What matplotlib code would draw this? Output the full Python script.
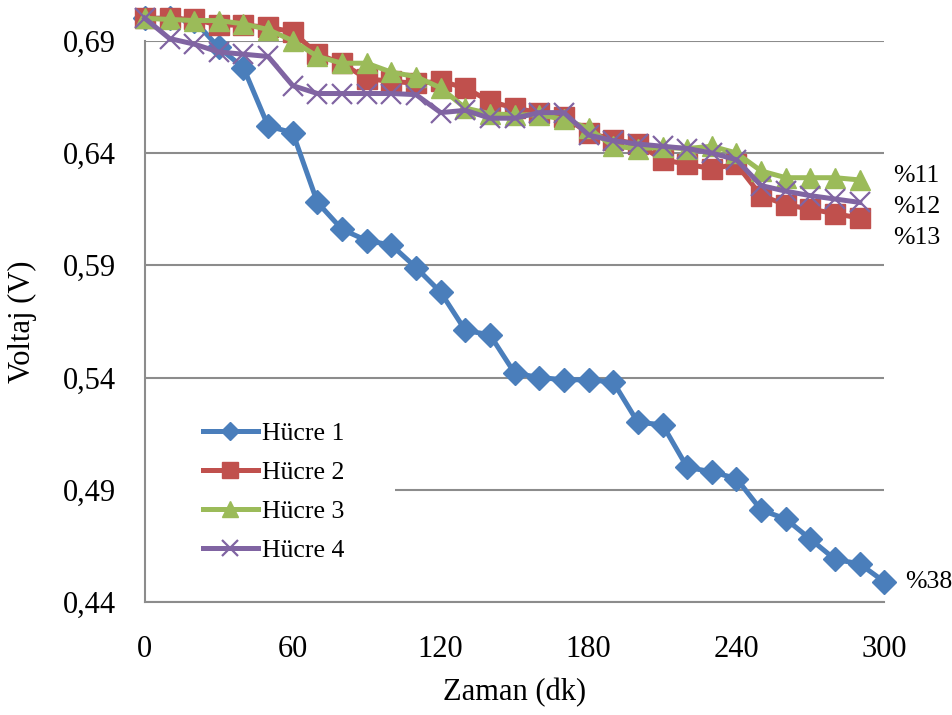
import matplotlib
matplotlib.use('Agg')
import matplotlib.pyplot as plt
from matplotlib.patches import Rectangle

# ölçüm zamanları (dk)
zaman1 = [0, 10, 20, 30, 40, 50, 60, 70, 80, 90, 100, 110, 120, 130, 140, 150,
          160, 170, 180, 190, 200, 210, 220, 230, 240, 250, 260, 270, 280, 290, 300]
zaman = zaman1[:-1]

# hücre voltajları (V)
hucre1 = [0.700, 0.700, 0.699, 0.687, 0.678, 0.652, 0.649, 0.618, 0.606, 0.601,
          0.599, 0.589, 0.578, 0.561, 0.559, 0.542, 0.540, 0.539, 0.539, 0.538,
          0.520, 0.519, 0.500, 0.498, 0.495, 0.481, 0.477, 0.468, 0.459, 0.457, 0.449]
hucre2 = [0.700, 0.700, 0.6995, 0.697, 0.697, 0.696, 0.694, 0.684, 0.680, 0.673,
          0.672, 0.671, 0.672, 0.669, 0.663, 0.660, 0.658, 0.656, 0.649, 0.646,
          0.644, 0.637, 0.635, 0.633, 0.635, 0.621, 0.617, 0.615, 0.613, 0.611]
hucre3 = [0.700, 0.6995, 0.699, 0.699, 0.6975, 0.695, 0.690, 0.683, 0.680, 0.680,
          0.676, 0.674, 0.669, 0.660, 0.6575, 0.657, 0.657, 0.655, 0.651, 0.643,
          0.642, 0.6425, 0.642, 0.643, 0.640, 0.632, 0.629, 0.629, 0.629, 0.628]
hucre4 = [0.700, 0.691, 0.6885, 0.685, 0.684, 0.683, 0.670, 0.6665, 0.6665, 0.6665,
          0.6665, 0.666, 0.658, 0.659, 0.6555, 0.6555, 0.658, 0.658, 0.648, 0.6455,
          0.644, 0.643, 0.642, 0.640, 0.637, 0.6255, 0.623, 0.621, 0.6195, 0.618]

# kayıp yüzdeleri
kayip = ['%38', '%13', '%11', '%12']

y_ticks = [0.44, 0.49, 0.54, 0.59, 0.64, 0.69]
y_labels = ['0,44', '0,49', '0,54', '0,59', '0,64', '0,69']
x_ticks = [0, 60, 120, 180, 240, 300]

plt.rcParams['font.family'] = ['Liberation Serif', 'DejaVu Serif']

fig = plt.figure(figsize=(9.53, 7.15), dpi=100)
ax = fig.add_axes([0.152, 0.158, 0.776, 0.785])

lw = 3.6
ax.plot(zaman1, hucre1, color='#4A7EBB', marker='D', markersize=12, lw=lw,
        label='Hücre 1', clip_on=False, zorder=3)
ax.plot(zaman, hucre2, color='#C0504D', marker='s', markersize=14, lw=lw,
        label='Hücre 2', clip_on=False, zorder=4)
ax.plot(zaman, hucre3, color='#9BBB59', marker='^', markersize=15, lw=lw,
        label='Hücre 3', clip_on=False, zorder=5)
ax.plot(zaman, hucre4, color='#8064A2', marker='x', markersize=14, mew=1.6, lw=lw,
        label='Hücre 4', clip_on=False, zorder=6)

ax.set_xlim(0, 300)
ax.set_ylim(0.44, 0.69)
ax.set_xticks(x_ticks)
ax.set_yticks(y_ticks)
ax.set_yticklabels(y_labels)
ax.tick_params(length=0, labelsize=22)
ax.tick_params(axis='y', pad=21)
ax.tick_params(axis='x', pad=24)
ax.yaxis.grid(True, color='#8C8C8C', lw=1.5)
ax.set_axisbelow(True)
for s in ['top', 'right']:
    ax.spines[s].set_visible(False)
for s in ['left', 'bottom']:
    ax.spines[s].set_color('#8C8C8C')
    ax.spines[s].set_linewidth(1.5)

ax.set_xlabel('Zaman (dk)', fontsize=22, labelpad=10)
ax.set_ylabel('Voltaj (V)', fontsize=22)
ax.yaxis.set_label_coords(-0.146, 0.5)

# yüzde etiketleri
ax.annotate(kayip[0], (zaman1[-1], hucre1[-1]), xytext=(15, 0), textcoords='offset points',
            va='center', fontsize=18.5, annotation_clip=False)
ax.annotate(kayip[2], (zaman[-1], hucre3[-1]), xytext=(24, 3), textcoords='offset points',
            va='center', fontsize=18.5, annotation_clip=False)
ax.annotate(kayip[3], (zaman[-1], hucre4[-1]), xytext=(24, -3), textcoords='offset points',
            va='center', fontsize=18.5, annotation_clip=False)
ax.annotate(kayip[1], (zaman[-1], hucre2[-1]), xytext=(24, -14), textcoords='offset points',
            va='center', fontsize=18.5, annotation_clip=False)

# lejant arka planı
ax.add_patch(Rectangle((0.002, 0.03), 0.336, 0.31, transform=ax.transAxes,
                       facecolor='white', edgecolor='none', zorder=2))
leg = ax.legend(loc='upper left', bbox_to_anchor=(0.078, 0.32), fontsize=18.5,
                frameon=False, handlelength=2.15, handletextpad=0.15,
                labelspacing=0.62, borderpad=0, borderaxespad=0, markerscale=0.8)
leg.set_zorder(7)

plt.savefig('out.png', dpi=100)
